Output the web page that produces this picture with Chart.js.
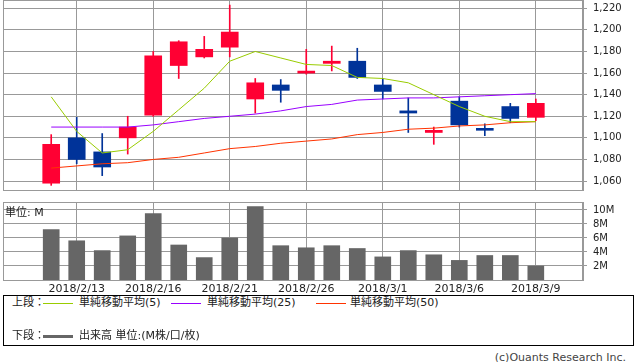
<!DOCTYPE html>
<html>
<head>
<meta charset="utf-8">
<script src="https://cdn.jsdelivr.net/npm/chart.js@4"></script>
<style>
  body { margin: 0; background: #fff; width: 638px; height: 362px; position: relative; overflow: hidden;
         font-family: "DejaVu Sans", "Noto Sans CJK JP", sans-serif; color: #222; }
  #priceChart { position: absolute; left: 0; top: 0; }
  #volChart { position: absolute; left: 0; top: 195px; }
  #unit { position: absolute; left: 5px; top: 203px; font-size: 11px; }
  #legend { position: absolute; left: 3px; top: 295px; width: 629px; height: 49px; border: 1px solid #000; font-size: 11px; }
  #legend span { position: absolute; line-height: 14px; white-space: nowrap; }
  #legend .ln { height: 0; border-top: 1px solid; width: 30px; }
  #copy { position: absolute; right: 12px; top: 351px; font-size: 11px; color: #444; }
</style>
</head>
<body>
<canvas id="priceChart" width="638" height="192"></canvas>
<canvas id="volChart" width="638" height="100"></canvas>
<div id="unit">単位: M</div>
<div id="legend">
  <span style="left:8px; top:0">上段：</span>
  <span class="ln" style="left:39px; top:7px; border-color:#99cc00"></span>
  <span style="left:75px; top:0">単純移動平均(5)</span>
  <span class="ln" style="left:167px; top:7px; border-color:#9900ff"></span>
  <span style="left:203px; top:0">単純移動平均(25)</span>
  <span class="ln" style="left:312px; top:7px; border-color:#ff3300"></span>
  <span style="left:346px; top:0">単純移動平均(50)</span>
  <span style="left:8px; top:33px">下段：</span>
  <span class="ln" style="left:39px; top:39px; border-top:3px solid #666"></span>
  <span style="left:75px; top:33px">出来高 単位:(M株/口/枚)</span>
</div>
<div id="copy">(c)Ouants Research Inc.</div>

<script>
// Daten (Tageskerzen)
const dates = ['2018/2/9','2018/2/13','2018/2/14','2018/2/15','2018/2/16','2018/2/19','2018/2/20','2018/2/21','2018/2/22','2018/2/23',
               '2018/2/26','2018/2/27','2018/2/28','2018/3/1','2018/3/2','2018/3/5','2018/3/6','2018/3/7','2018/3/8','2018/3/9'];
const openP  = [1058,1100,1087,1100,1121,1167,1175,1184,1136,1149,1160,1169,1171,1149,1125,1105,1134,1108,1129,1119];
const highP  = [1103,1119,1104,1120,1180,1190,1194,1223,1155,1154,1182,1185,1183,1155,1137,1110,1138,1113,1132,1136];
const lowP   = [1056,1076,1065,1085,1120,1155,1174,1175,1123,1133,1159,1162,1155,1136,1105,1094,1110,1102,1114,1116];
const closeP = [1094,1080,1073,1110,1176,1189,1182,1198,1151,1144,1161,1171,1156,1143,1123,1107,1112,1107,1118,1132];
const ma5  = [1138,1106,1086,1089,1106,1126,1146,1171,1180,1174,1168,1167,1156,1155,1151,1140,1129,1120,1115,1115];
const ma25 = [1110,1110,1110,1110,1112,1115,1118,1120,1122,1125,1129,1131,1135,1136,1137,1137,1138,1139,1140,1141];
const ma50 = [1072,1074,1076,1077,1080,1082,1086,1090,1092,1095,1097,1099,1103,1105,1108,1109,1111,1112,1114,1115];
const volume = [7.2,5.6,4.2,6.3,9.5,5.0,3.2,6.0,10.5,4.9,4.6,4.9,4.5,3.3,4.2,3.6,2.8,3.5,3.5,2.0]; // in M

const labelIdx = [1,4,7,10,13,16,19];
const priceTicks = [1060,1080,1100,1120,1140,1160,1180,1200,1220];
const volTicks = [2,4,6,8,10];

const UP = '#ff0033';
const DOWN = '#003399';
const GRID = '#999999';

const candleColors = openP.map((o, i) => closeP[i] >= o ? UP : DOWN);
const xy = (arr) => arr.map((v, i) => ({ x: i, y: v }));

// Rahmen um die Plotfläche
const framePlugin = {
  id: 'frame',
  beforeDatasetsDraw(chart) {
    const a = chart.chartArea;
    const c = chart.ctx;
    c.save();
    c.strokeStyle = GRID;
    c.lineWidth = 1;
    c.strokeRect(a.left + 0.5, a.top + 0.5, a.right - a.left - 1, a.bottom - a.top);
    c.restore();
  }
};

function xScale(showLabels) {
  return {
    type: 'linear',
    offset: false,
    min: -1.89,
    max: 20.85,
    afterBuildTicks: (s) => { s.ticks = labelIdx.map(v => ({ value: v })); },
    afterFit: (s) => {
      s.height = showLabels ? 15 : 0;
      s.paddingLeft = 0; s.paddingRight = 0;
    },
    grid: { color: GRID, drawTicks: false, offset: false },
    border: { color: GRID },
    ticks: {
      display: showLabels,
      padding: 3,
      maxRotation: 0,
      autoSkip: false,
      color: '#222',
      font: { family: 'DejaVu Sans', size: 11 },
      callback: (v) => dates[v]
    }
  };
}

function yScale(min, max, tickList, fmt) {
  return {
    position: 'right',
    min: min,
    max: max,
    afterBuildTicks: (s) => { s.ticks = tickList.map(v => ({ value: v })); },
    afterFit: (s) => {
      s.width = 55;
      s.paddingTop = 0; s.paddingBottom = 0;
    },
    grid: { color: GRID, tickLength: 4 },
    border: { color: GRID },
    ticks: { padding: 6, color: '#222', font: { family: 'DejaVu Sans', size: 10 }, callback: fmt }
  };
}

Chart.defaults.animation = false;

new Chart(document.getElementById('priceChart'), {
  type: 'bar',
  data: {
    datasets: [
      { type: 'line', data: xy(ma5),  borderColor: '#99cc00', borderWidth: 1, pointRadius: 0, tension: 0, order: 0 },
      { type: 'line', data: xy(ma25), borderColor: '#9900ff', borderWidth: 1, pointRadius: 0, tension: 0, order: 0 },
      { type: 'line', data: xy(ma50), borderColor: '#ff3300', borderWidth: 1, pointRadius: 0, tension: 0, order: 0 },
      { data: lowP.map((l, i) => ({ x: i, y: [l, highP[i]] })), backgroundColor: candleColors,
        barThickness: 1, grouped: false, order: 2 },
      { data: openP.map((o, i) => ({ x: i, y: [o, closeP[i]] })), backgroundColor: candleColors,
        barThickness: 17, minBarLength: 2, grouped: false, order: 1 }
    ]
  },
  options: {
    responsive: false,
    layout: { autoPadding: false, padding: { left: 3, top: 0, right: 0, bottom: 2 } },
    plugins: { legend: { display: false }, tooltip: { enabled: false } },
    scales: {
      x: xScale(false),
      y: yScale(1051.7, 1227.7, priceTicks, (v) => v.toLocaleString('en-US'))
    }
  },
  plugins: [framePlugin]
});

new Chart(document.getElementById('volChart'), {
  type: 'bar',
  data: {
    datasets: [
      { data: xy(volume), backgroundColor: '#666666', barThickness: 16, grouped: false }
    ]
  },
  options: {
    responsive: false,
    layout: { autoPadding: false, padding: { left: 3, top: 7, right: 0, bottom: 0 } },
    plugins: { legend: { display: false }, tooltip: { enabled: false } },
    scales: {
      x: xScale(true),
      y: yScale(0, 11.14, volTicks, (v) => v + 'M')
    }
  },
  plugins: [framePlugin]
});
</script>
</body>
</html>
